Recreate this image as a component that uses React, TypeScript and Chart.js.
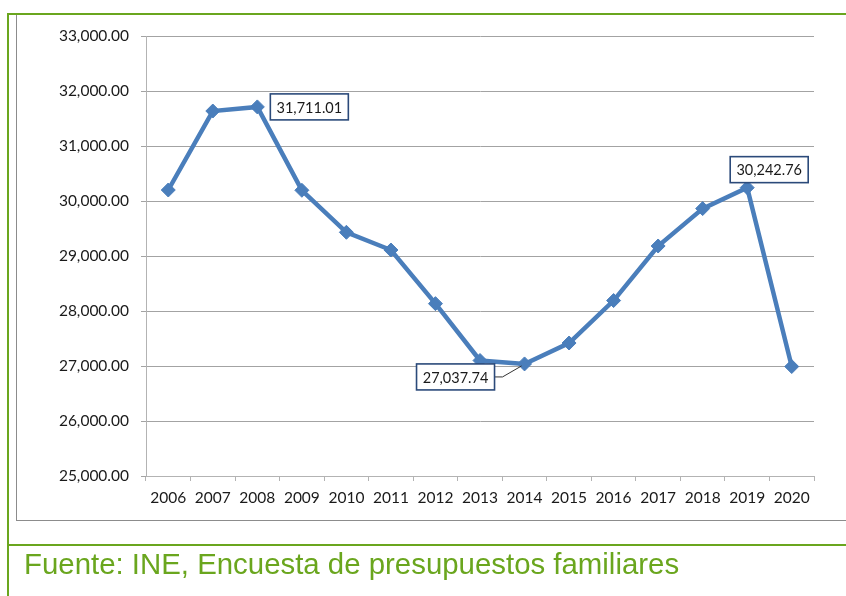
import React, { useEffect, useRef } from 'react';
import { Chart, registerables } from 'chart.js';

Chart.register(...registerables);

const years = ['2006', '2007', '2008', '2009', '2010', '2011', '2012', '2013', '2014', '2015', '2016', '2017', '2018', '2019', '2020'];
const gastoMedio = [30200, 31636, 31711.01, 30195, 29431, 29109, 28134, 27100, 27037.74, 27418, 28190, 29182, 29862, 30242.76, 26990];
const yMin = 25000;
const yMax = 33000;
const yStep = 1000;
const calloutIndex = [2, 8, 13];
const calloutText = ['31,711.01', '27,037.74', '30,242.76'];
const footerText = 'Fuente: INE, Encuesta de presupuestos familiares';

const fmt = (v: number) =>
  v.toLocaleString('en-US', { minimumFractionDigits: 2, maximumFractionDigits: 2 });

const calloutPlugin = {
  id: 'callouts',
  afterDatasetsDraw(chart: any) {
    const meta = chart.getDatasetMeta(0);
    const ctx = chart.ctx as CanvasRenderingContext2D;
    const w = 78;
    const h = 26;
    ctx.save();
    ctx.font = '14.5px Lato';
    ctx.textAlign = 'center';
    ctx.textBaseline = 'middle';
    calloutIndex.forEach((idx, k) => {
      const p = meta.data[idx];
      let left = 0;
      let top = 0;
      if (k === 0) {
        left = p.x + 13;
        top = p.y - 13;
      } else if (k === 1) {
        left = p.x - 108;
        top = p.y;
        ctx.strokeStyle = '#333333';
        ctx.lineWidth = 1;
        ctx.beginPath();
        ctx.moveTo(left + w, top + 13);
        ctx.lineTo(left + w + 8, top + 13);
        ctx.lineTo(p.x - 3, p.y + 2);
        ctx.stroke();
      } else {
        left = p.x - 17;
        top = p.y - 31;
      }
      ctx.fillStyle = '#ffffff';
      ctx.fillRect(left, top, w, h);
      ctx.strokeStyle = '#2b4a7a';
      ctx.lineWidth = 1.6;
      ctx.strokeRect(left, top, w, h);
      ctx.fillStyle = '#1a1a1a';
      ctx.fillText(calloutText[k], left + w / 2, top + h / 2 + 1);
    });
    ctx.restore();
  },
};

export default function App() {
  const ref = useRef<HTMLCanvasElement | null>(null);

  useEffect(() => {
    if (!ref.current) return;
    const chart = new Chart(ref.current, {
      type: 'line',
      data: {
        labels: years,
        datasets: [
          {
            data: gastoMedio,
            borderColor: '#4a7ebb',
            backgroundColor: '#4a7ebb',
            borderWidth: 4.5,
            pointStyle: 'rectRot',
            pointRadius: 7,
            pointBackgroundColor: '#4a7ebb',
            pointBorderColor: '#4a7ebb',
            pointBorderWidth: 1,
            tension: 0,
          },
        ],
      },
      options: {
        animation: false,
        responsive: false,
        maintainAspectRatio: false,
        devicePixelRatio: 1,
        layout: { padding: { left: 0, top: 36, right: 32, bottom: 80 } },
        plugins: { legend: { display: false }, tooltip: { enabled: false } },
        scales: {
          x: {
            offset: true,
            grid: {
              display: true,
              drawOnChartArea: false,
              drawTicks: true,
              tickLength: 5,
              color: '#b3b3b3',
              offset: true,
            },
            border: { display: true, color: '#b3b3b3', width: 1 },
            ticks: {
              font: { family: 'Lato', size: 15.5 },
              color: '#1a1a1a',
              padding: 8,
              maxRotation: 0,
              autoSkip: false,
            },
            afterFit: (s: any) => {
              s.height = 40;
            },
          },
          y: {
            min: yMin,
            max: yMax,
            ticks: {
              stepSize: yStep,
              callback: (v: any) => fmt(Number(v)),
              font: { family: 'Lato', size: 15.5 },
              color: '#1a1a1a',
              padding: 12,
            },
            grid: { color: '#a3a3a3', tickLength: 5, lineWidth: 1 },
            border: { display: true, color: '#b3b3b3', width: 1 },
            afterFit: (s: any) => {
              s.width = 146;
            },
          },
        },
      },
      plugins: [calloutPlugin],
    });
    return () => chart.destroy();
  }, []);

  const abs = (st: React.CSSProperties): React.CSSProperties => ({ position: 'absolute', ...st });

  return (
    <div style={{ position: 'fixed', left: 0, top: 0, width: 846, height: 596, background: '#ffffff', overflow: 'hidden' }}>
      <canvas ref={ref} width={846} height={596} style={abs({ left: 0, top: 0, width: 846, height: 596 })} />
      <div style={abs({ left: 7, top: 13, width: 839, height: 2, background: '#6aa61e' })} />
      <div style={abs({ left: 7, top: 13, width: 2, height: 583, background: '#6aa61e' })} />
      <div style={abs({ left: 16, top: 15, width: 1, height: 505, background: '#8c8c8c' })} />
      <div style={abs({ left: 16, top: 520, width: 830, height: 1, background: '#8c8c8c' })} />
      <div style={abs({ left: 7, top: 544, width: 839, height: 2, background: '#6aa61e' })} />
      <div
        style={abs({
          left: 24,
          top: 549,
          fontFamily: '"Liberation Sans", Arial, sans-serif',
          fontSize: 29.4,
          lineHeight: '29px',
          color: '#6aa61e',
          whiteSpace: 'nowrap',
        })}
      >
        {footerText}
      </div>
    </div>
  );
}
